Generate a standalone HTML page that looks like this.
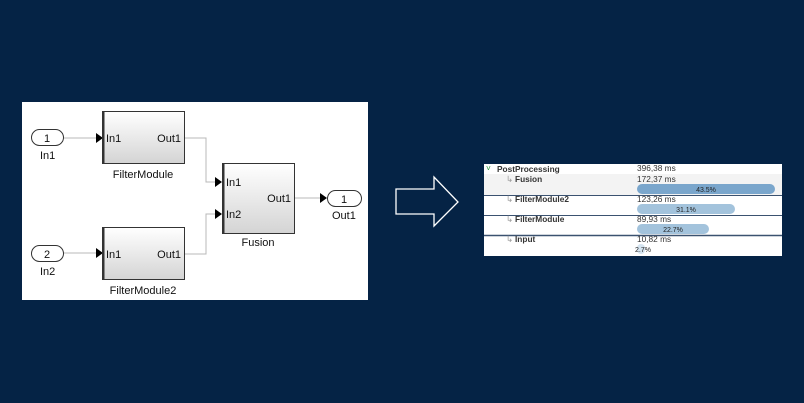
<!DOCTYPE html>
<html><head><style>
html,body{margin:0;width:804px;height:403px;background:#052345;overflow:hidden;font-family:"Liberation Sans",sans-serif}
svg{display:block}
</style></head><body>
<svg width="804" height="403" xmlns="http://www.w3.org/2000/svg" font-family="Liberation Sans, sans-serif">
<defs>
<linearGradient id="g" x1="0" y1="0" x2="0" y2="1"><stop offset="0" stop-color="#ffffff"/><stop offset="1" stop-color="#d4d4d4"/></linearGradient>
</defs>
<rect x="22" y="102" width="346" height="198" fill="#fff"/>
<g stroke="#b8b8b8" fill="none" stroke-width="1">
<path d="M63 138H96"/><path d="M63 253H96"/>
<path d="M184 138H206V182H216"/><path d="M184 254H206V214H216"/>
<path d="M294 198H320"/>
</g>
<g fill="#000">
<path d="M96 133L103 138L96 143Z"/><path d="M96 248L103 253L96 258Z"/>
<path d="M215 177L222 182L215 187Z"/><path d="M215 209L222 214L215 219Z"/>
<path d="M320 193L327 198L320 203Z"/>
</g>
<g stroke="#333" stroke-width="1">
<rect x="31.5" y="129.5" width="32" height="16" rx="8" fill="#fff"/>
<rect x="31.5" y="245.5" width="32" height="16" rx="8" fill="#fff"/>
<rect x="327.5" y="190.5" width="34" height="16" rx="8" fill="#fff"/>
<rect x="102.5" y="111.5" width="82" height="52" fill="url(#g)"/>
<rect x="102.5" y="227.5" width="82" height="52" fill="url(#g)"/>
<rect x="222.5" y="163.5" width="72" height="70" fill="url(#g)"/>
</g>
<g stroke="#333" stroke-width="2"><path d="M103.5 112V164M103.5 228V280M223.5 164V234"/></g>
<g font-size="11" fill="#111">
<text x="47" y="142" text-anchor="middle">1</text>
<text x="47" y="258" text-anchor="middle">2</text>
<text x="344" y="203" text-anchor="middle">1</text>
<text x="40" y="159">In1</text><text x="40" y="275">In2</text>
<text x="332" y="219">Out1</text>
<text x="106" y="142">In1</text><text x="181" y="142" text-anchor="end">Out1</text>
<text x="106" y="258">In1</text><text x="181" y="258" text-anchor="end">Out1</text>
<text x="226" y="186">In1</text><text x="226" y="218">In2</text><text x="291" y="202" text-anchor="end">Out1</text>
<text x="143" y="178" text-anchor="middle">FilterModule</text>
<text x="143" y="294" text-anchor="middle">FilterModule2</text>
<text x="258" y="246" text-anchor="middle">Fusion</text>
</g>
<path d="M396 189H434V177L458 202L434 226V214H396Z" fill="none" stroke="#fff" stroke-width="1.3"/>
<rect x="484" y="164" width="298" height="92" fill="#fff"/>
<rect x="484" y="174" width="298" height="21" fill="#f3f3f3"/>
<g stroke="#3b5270"><path d="M484 195.5H782M484 215.5H782"/><path d="M484 235.5H782" stroke-width="1.6"/></g>
<rect x="637" y="184" width="138" height="10" rx="5" fill="#7aa6cc"/>
<rect x="637" y="204" width="98" height="10" rx="5" fill="#a3c3dc"/>
<rect x="637" y="224" width="72" height="10" rx="5" fill="#a3c3dc"/>
<rect x="637" y="244" width="8" height="10" rx="4" fill="#d5e4f0"/>
<g font-size="8.3" fill="#333">
<text x="486" y="171" fill="#2a9a3a">˅</text>
<text x="497" y="172" font-weight="bold">PostProcessing</text>
<text x="506" y="182" fill="#999">↳</text><text x="515" y="182" font-weight="bold">Fusion</text>
<text x="506" y="202" fill="#999">↳</text><text x="515" y="202" font-weight="bold">FilterModule2</text>
<text x="506" y="222" fill="#999">↳</text><text x="515" y="222" font-weight="bold">FilterModule</text>
<text x="506" y="242" fill="#999">↳</text><text x="515" y="242" font-weight="bold">Input</text>
<text x="637" y="171">396,38 ms</text>
<text x="637" y="182">172,37 ms</text>
<text x="637" y="202">123,26 ms</text>
<text x="637" y="222">89,93 ms</text>
<text x="637" y="242">10,82 ms</text>
</g>
<g font-size="7" fill="#222" text-anchor="middle">
<text x="706" y="192">43.5%</text><text x="686" y="212">31.1%</text><text x="673" y="232">22.7%</text>
<text x="643" y="252">2.7%</text>
</g>
</svg>
</body></html>
